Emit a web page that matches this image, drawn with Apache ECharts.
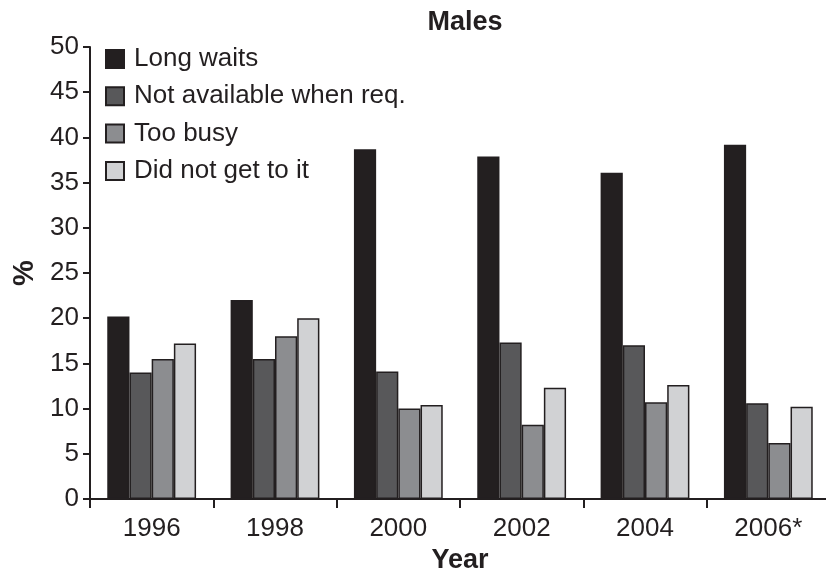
<!DOCTYPE html>
<html>
<head>
<meta charset="utf-8">
<script src="https://cdn.jsdelivr.net/npm/echarts@6/dist/echarts.min.js"></script>
<style>
  html, body { margin: 0; padding: 0; background: #fff; }
  #chart { width: 826px; height: 575px; }
</style>
</head>
<body>
<div id="chart"></div>
<script>
const years = ['1996', '1998', '2000', '2002', '2004', '2006*']
const longWaits = [20.2, 22.0, 38.7, 37.9, 36.1, 39.2]
const notAvailable = [14.0, 15.5, 14.1, 17.3, 17.0, 10.6]
const tooBusy = [15.5, 18.0, 10.0, 8.2, 10.7, 6.2]
const didNotGet = [17.2, 20.0, 10.4, 12.3, 12.6, 10.2]

const ink = '#231f20'
const fontFamily = 'Liberation Sans, Arial, sans-serif'

const makeBar = (name, data, color) => ({
    name: name,
    type: 'bar',
    data: data,
    barGap: '0%',
    barCategoryGap: '28%',
    itemStyle: { color: color, borderColor: ink, borderWidth: 1.5 }
})

const chart = echarts.init(document.getElementById('chart'))
chart.setOption({
    animation: false,
    textStyle: { fontFamily: fontFamily },
    title: {
        text: 'Males',
        left: 460,
        top: 4,
        textAlign: 'center',
        textStyle: { fontSize: 27, fontWeight: 'bold', color: ink, fontFamily: fontFamily }
    },
    legend: {
        orient: 'vertical',
        left: 100,
        top: 41,
        itemWidth: 18,
        itemHeight: 18,
        itemGap: 11.3,
        icon: 'rect',
        textStyle: { fontSize: 26, color: ink, fontFamily: fontFamily, padding: [0, 0, 0, 5] },
        data: ['Long waits', 'Not available when req.', 'Too busy', 'Did not get to it']
    },
    grid: { left: 90, right: -4, top: 47, bottom: 76, outerBoundsMode: 'none' },
    xAxis: {
        type: 'category',
        data: years,
        name: 'Year',
        nameLocation: 'middle',
        nameGap: 39,
        nameTextStyle: { fontSize: 27, fontWeight: 'bold', color: ink, fontFamily: fontFamily },
        axisLine: { lineStyle: { color: ink, width: 2 } },
        axisTick: { show: true, length: 9, lineStyle: { color: ink, width: 2 } },
        axisLabel: { fontSize: 26, color: ink, margin: 17, fontFamily: fontFamily }
    },
    yAxis: {
        type: 'value',
        min: 0,
        max: 50,
        interval: 5,
        name: '%',
        nameLocation: 'middle',
        nameGap: 32,
        nameRotate: 90,
        nameTextStyle: { fontSize: 29, fontWeight: 'bold', color: ink, fontFamily: fontFamily },
        splitLine: { show: false },
        axisLine: { show: true, lineStyle: { color: ink, width: 2 } },
        axisTick: { show: true, length: 7, lineStyle: { color: ink, width: 2 } },
        axisLabel: { fontSize: 26, color: ink, margin: 11, fontFamily: fontFamily }
    },
    series: [
        makeBar('Long waits', longWaits, '#231f20'),
        makeBar('Not available when req.', notAvailable, '#58585a'),
        makeBar('Too busy', tooBusy, '#8c8d90'),
        makeBar('Did not get to it', didNotGet, '#d1d2d4')
    ]
})
</script>
</body>
</html>
